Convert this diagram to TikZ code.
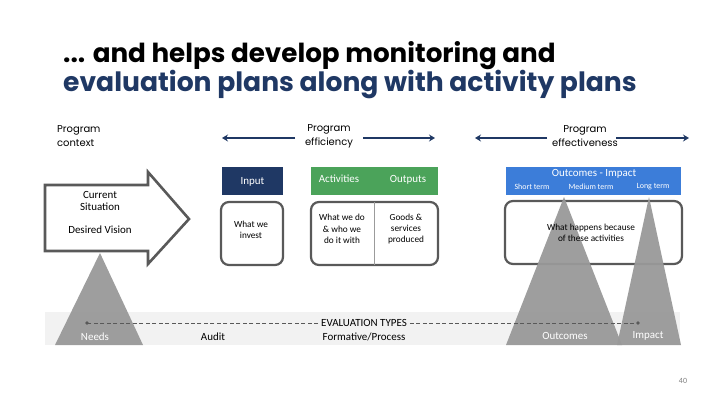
\documentclass[tikz,border=0pt]{standalone}
\usepackage{fontspec}
\setmainfont{Carlito}
\newfontfamily\titlefont{Poppins}
\usetikzlibrary{arrows.meta}
\definecolor{navy}{HTML}{1F3864}
\definecolor{grn}{HTML}{4BA35A}
\definecolor{oblue}{HTML}{3C7DD9}
\definecolor{outl}{HTML}{595959}
\definecolor{trigray}{HTML}{999999}
\definecolor{band}{HTML}{F2F2F2}
\tikzset{
  lbl/.style={font=\fontsize{11}{13}\selectfont, align=center, inner sep=0pt},
  head/.style={font=\titlefont\fontsize{10}{14}\selectfont, align=center, inner sep=0pt},
  small/.style={font=\fontsize{9.3}{11.5}\selectfont, align=center, inner sep=0pt},
  tiny/.style={font=\fontsize{8}{10}\selectfont, align=center, inner sep=0pt},
  body/.style={draw=outl, line width=2.2pt, rounded corners=8pt, fill=white},
  tri/.style={fill=trigray, draw=none, opacity=0.95},
  progarrow/.style={draw=navy, line width=1.6pt, -{Stealth[length=6pt,width=7pt]}},
  evdash/.style={draw=outl, line width=1pt, dashed, dash pattern=on 4pt off 2.5pt},
}
\begin{document}
\begin{tikzpicture}[x=1bp, y=-1bp]
\useasboundingbox (0,0) rectangle (720,405);
\fill[white] (0,0) rectangle (720,405);

% title
\node[anchor=base west, inner sep=0pt, font=\titlefont\bfseries\fontsize{26.3}{30}\selectfont] (t1) at (63,62) {... and helps develop monitoring and};
\node[anchor=base west, inner sep=0pt, text=navy, font=\titlefont\bfseries\fontsize{26.7}{30}\selectfont] (t2) at (63,91) {evaluation plans along with activity plans};

% program headings
\node[head, align=left, anchor=west] (ctx) at (57,136) {Program\\context};
\node[head] (eff) at (329,136) {Program\\efficiency};
\node[head] (effv) at (585,136) {Program\\effectiveness};
\coordinate (effL) at (222,138);
\coordinate (effR) at (435,138);
\coordinate (effvL) at (475,138);
\coordinate (effvR) at (689,138);
\draw[progarrow] (295,138) -- (effL);
\draw[progarrow] (363,138) -- (effR);
\draw[progarrow] (547,138) -- (effvL);
\draw[progarrow] (616,138) -- (effvR);

% evaluation band
\fill[band] (45,312) rectangle (680,345);

% big arrow
\draw[draw=outl, line width=2.6pt, fill=white, line join=miter]
  (45,185) -- (148,185) -- (148,172) -- (189,219) -- (148,264) -- (148,251) -- (45,251) -- cycle;
\node[lbl] (cur) at (100,201) {Current\\Situation};
\node[lbl] (des) at (100,230) {Desired Vision};

% headers
\fill[navy] (222,167) rectangle (283,195);
\node[lbl, text=white] (inp) at (252.5,182) {Input};
\fill[grn] (311,167) rectangle (438,195);
\node[lbl, text=white] (act) at (339,179) {Activities};
\node[lbl, text=white] (outp) at (408,180) {Outputs};
\fill[oblue] (506,167) rectangle (681,195);
\node[lbl, text=white] (oi) at (594,174) {Outcomes - Impact};
\node[tiny, text=white] (st) at (532,187) {Short term};
\node[tiny, text=white] (mt) at (591,187) {Medium term};
\node[tiny, text=white] (lt) at (653,187) {Long term};

% bodies
\draw[body] (221,202) rectangle (283,265);
\draw[body] (311,202) rectangle (438,265);
\draw[outl!60, line width=0.8pt] (374,202) -- (374,265);
\draw[body] (505,201) rectangle (682,264);

% triangles
\fill[tri] (100,253) -- (143,345) -- (55,345) -- cycle;
\fill[tri] (564,197) -- (622,345) -- (506,345) -- cycle;
\fill[tri] (649,197) -- (681,345) -- (617,345) -- cycle;

% body texts
\node[small] (wi) at (251,230) {What we\\invest};
\node[small] (wd) at (342,229) {What we do\\\& who we\\do it with};
\node[small] (gs) at (406,229) {Goods \&\\services\\produced};
\node[small] (wh) at (591,233) {What happens because\\of these activities};

% evaluation types
\node[lbl, inner sep=3pt] (evt) at (364,323) {EVALUATION TYPES};
\coordinate (evL) at (87,323);
\coordinate (evR) at (638,323);
\draw[evdash] (evt.west) -- (evL);
\draw[evdash] (evt.east) -- (evR);
\fill[outl] (evL) circle (1.8);
\fill[outl] (evR) circle (1.8);
\node[lbl, text=white] (needs) at (95,337) {Needs};
\node[lbl] (audit) at (213,337) {Audit};
\node[lbl] (form) at (364,337) {Formative/Process};
\node[lbl, text=white] (outc) at (565,336) {Outcomes};
\node[lbl, text=white] (imp) at (648,336) {Impact};

% page number
\node[tiny, text=gray] (pg) at (683,381) {40};
\end{tikzpicture}
\end{document}
